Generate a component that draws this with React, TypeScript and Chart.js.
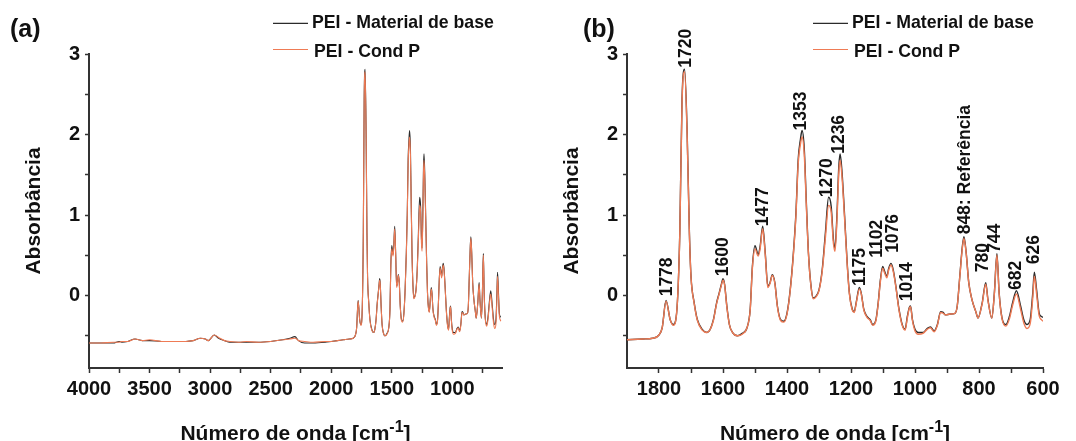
import React, { useEffect, useRef } from 'react';
import { Chart, registerables } from 'chart.js';

Chart.register(...registerables);

const FONT = '"Liberation Sans", Arial, sans-serif';

const WAVENUMBER = [
  4000, 3900, 3800, 3750, 3730, 3680, 3620, 3560, 3500, 3400, 3300, 3200, 3140, 3080, 3040, 3016, 2966, 2930,
  2880, 2837, 2750, 2700, 2600, 2500, 2400, 2340, 2300, 2270, 2220, 2150, 2050, 2000, 1950, 1900, 1850, 1820,
  1800, 1790, 1778, 1765, 1755, 1745, 1735, 1728, 1720, 1712, 1705, 1700, 1690, 1680, 1665, 1650, 1640, 1630,
  1620, 1612, 1605, 1600, 1595, 1588, 1580, 1570, 1555, 1540, 1525, 1515, 1508, 1500, 1490, 1484, 1476, 1468,
  1460, 1453, 1446, 1438, 1430, 1420, 1410, 1400, 1390, 1380, 1372, 1365, 1358, 1353, 1346, 1340, 1333, 1325,
  1318, 1310, 1300, 1290, 1280, 1270, 1262, 1255, 1250, 1244, 1238, 1234, 1228, 1220, 1212, 1205, 1196, 1190,
  1183, 1174, 1168, 1160, 1150, 1140, 1132, 1122, 1115, 1108, 1101, 1095, 1088, 1082, 1075, 1068, 1060, 1050,
  1040, 1031, 1024, 1018, 1014, 1008, 1000, 990, 975, 962, 952, 940, 930, 920, 912, 905, 890, 875,
  868, 860, 852, 847, 840, 832, 822, 810, 803, 790, 779, 772, 760, 752, 744, 737, 728, 716,
  705, 695, 683, 670, 660, 650, 640, 632, 627, 620, 612, 605, 600,
];

const BASE = [
  -0.59, -0.59, -0.59, -0.57, -0.58, -0.57, -0.54, -0.56, -0.56, -0.57, -0.57, -0.57, -0.56, -0.53, -0.54, -0.56, -0.49, -0.53,
  -0.56, -0.58, -0.58, -0.58, -0.58, -0.57, -0.55, -0.53, -0.51, -0.56, -0.59, -0.59, -0.58, -0.57, -0.56, -0.55, -0.54, -0.53,
  -0.49, -0.4, -0.06, -0.3, -0.36, -0.22, 0.78, 2.44, 2.81, 2.02, 0.78, 0.24, -0.09, -0.3, -0.42, -0.46, -0.42, -0.3,
  -0.09, 0.03, 0.14, 0.21, 0.14, -0.13, -0.36, -0.46, -0.5, -0.47, -0.4, -0.17, 0.37, 0.62, 0.51, 0.61, 0.86, 0.53,
  0.12, 0.16, 0.26, 0.16, -0.13, -0.3, -0.32, -0.22, 0.07, 0.53, 1.03, 1.69, 1.94, 2.05, 1.82, 1.2, 0.53, 0.12,
  -0.03, -0.01, 0.07, 0.32, 0.78, 1.22, 1.11, 0.7, 0.59, 0.99, 1.61, 1.76, 1.53, 0.99, 0.41, 0.03, -0.17, -0.2,
  -0.07, 0.1, 0.03, -0.17, -0.26, -0.3, -0.36, -0.3, -0.09, 0.2, 0.36, 0.3, 0.24, 0.34, 0.4, 0.32, 0.12, -0.17,
  -0.36, -0.42, -0.26, -0.15, -0.13, -0.3, -0.42, -0.46, -0.46, -0.41, -0.39, -0.44, -0.36, -0.2, -0.21, -0.24, -0.23, -0.22,
  -0.13, 0.24, 0.61, 0.73, 0.53, 0.16, -0.05, -0.2, -0.28, -0.09, 0.16, -0.05, -0.28, 0.03, 0.52, 0.03, -0.28, -0.36,
  -0.26, -0.09, 0.06, -0.13, -0.3, -0.36, -0.3, 0.03, 0.29, 0.07, -0.22, -0.26, -0.27,
];

const COND = [
  -0.59, -0.59, -0.58, -0.58, -0.57, -0.57, -0.54, -0.56, -0.55, -0.57, -0.57, -0.57, -0.56, -0.53, -0.54, -0.56, -0.49, -0.52,
  -0.56, -0.57, -0.58, -0.57, -0.58, -0.57, -0.55, -0.54, -0.53, -0.56, -0.57, -0.58, -0.57, -0.57, -0.56, -0.55, -0.54, -0.53,
  -0.49, -0.4, -0.07, -0.3, -0.37, -0.22, 0.76, 2.4, 2.78, 1.98, 0.76, 0.23, -0.1, -0.31, -0.43, -0.46, -0.42, -0.31,
  -0.1, 0.02, 0.13, 0.19, 0.13, -0.14, -0.36, -0.46, -0.5, -0.48, -0.4, -0.18, 0.35, 0.58, 0.49, 0.58, 0.83, 0.51,
  0.1, 0.15, 0.25, 0.15, -0.14, -0.31, -0.33, -0.23, 0.06, 0.51, 1.0, 1.64, 1.88, 1.97, 1.75, 1.16, 0.52, 0.11,
  -0.04, -0.02, 0.06, 0.3, 0.72, 1.12, 1.04, 0.65, 0.55, 0.93, 1.53, 1.68, 1.47, 0.95, 0.39, 0.02, -0.18, -0.21,
  -0.08, 0.08, 0.02, -0.18, -0.27, -0.31, -0.37, -0.31, -0.1, 0.18, 0.34, 0.28, 0.22, 0.32, 0.38, 0.3, 0.11, -0.18,
  -0.37, -0.43, -0.28, -0.16, -0.14, -0.31, -0.44, -0.48, -0.47, -0.42, -0.4, -0.45, -0.37, -0.21, -0.22, -0.24, -0.23, -0.22,
  -0.13, 0.23, 0.59, 0.71, 0.52, 0.16, -0.05, -0.2, -0.28, -0.1, 0.14, -0.06, -0.28, 0.02, 0.5, 0.02, -0.29, -0.38,
  -0.29, -0.12, 0.02, -0.17, -0.34, -0.41, -0.35, -0.03, 0.24, 0.02, -0.25, -0.3, -0.32,
];

const SERIES_NAMES = ['PEI - Material de base', 'PEI - Cond P'];
const SERIES_COLORS = ['#2b2b2b', '#ef7b55'];

const Y_TICKS = [-0.5, 0, 0.5, 1, 1.5, 2, 2.5, 3];
const X_TICKS_A = [4000, 3750, 3500, 3250, 3000, 2750, 2500, 2250, 2000, 1750, 1500, 1250, 1000, 750];
const X_TICKS_B = [1800, 1700, 1600, 1500, 1400, 1300, 1200, 1100, 1000, 900, 800, 700, 600];

const PEAK_LABELS = ['1778', '1720', '1600', '1477', '1353', '1270', '1236', '1175', '1102', '1076', '1014', '848: Referência', '780', '744', '682', '626'];
const PEAK_X = [1774, 1715, 1598, 1476, 1357, 1276, 1238, 1172, 1118, 1069, 1025, 844, 787, 750, 685, 629];
const PEAK_Y = [-0.01, 2.83, 0.24, 0.86, 2.05, 1.22, 1.76, 0.12, 0.47, 0.53, -0.07, 0.76, 0.29, 0.53, 0.07, 0.39];

type PanelProps = {
  tag: string;
  tagX: number;
  xMin: number;
  xMax: number;
  xTicks: number[];
  labelEvery: number;
  rightPad: number;
  lineWidth: number;
  showPeaks: boolean;
  legendX: number;
};

function Panel(props: PanelProps) {
  const ref = useRef<HTMLCanvasElement | null>(null);
  useEffect(() => {
    const canvas = ref.current;
    if (!canvas) return;
    const mk = (vals: number[]) => WAVENUMBER.map((w, i) => ({ x: w, y: vals[i] }));

    const overlay = {
      id: 'overlay',
      afterDraw(chart: any) {
        const ctx = chart.ctx as CanvasRenderingContext2D;
        const xs = chart.scales.x;
        const ys = chart.scales.y;
        const area = chart.chartArea;
        ctx.save();
        // panel tag
        ctx.fillStyle = '#111';
        ctx.font = `bold 25px ${FONT}`;
        ctx.textAlign = 'left';
        ctx.textBaseline = 'alphabetic';
        ctx.fillText(props.tag, props.tagX, 37);
        // legend
        const lx = props.legendX;
        const rows = [23.3, 49.5];
        const textY = [23.5, 52];
        SERIES_NAMES.forEach((name, i) => {
          ctx.strokeStyle = SERIES_COLORS[i];
          ctx.lineWidth = 1.2;
          ctx.beginPath();
          ctx.moveTo(lx, rows[i]);
          ctx.lineTo(lx + 35, rows[i]);
          ctx.stroke();
          ctx.fillStyle = '#111';
          ctx.font = `bold 17.7px ${FONT}`;
          ctx.textBaseline = 'middle';
          ctx.fillText(name, lx + 39 + i * 2, textY[i]);
        });
        // x-axis title with superscript
        const main = 'Número de onda [cm';
        const sup = '-1';
        const end = ']';
        ctx.textBaseline = 'alphabetic';
        ctx.font = `bold 21px ${FONT}`;
        const w1 = ctx.measureText(main).width;
        const w3 = ctx.measureText(end).width;
        ctx.font = `bold 16px ${FONT}`;
        const w2 = ctx.measureText(sup).width;
        const cx = (area.left + area.right) / 2;
        let x0 = cx - (w1 + w2 + w3) / 2;
        const base = 440;
        ctx.font = `bold 21px ${FONT}`;
        ctx.fillText(main, x0, base);
        x0 += w1;
        ctx.font = `bold 16px ${FONT}`;
        ctx.fillText(sup, x0, base - 8);
        x0 += w2;
        ctx.font = `bold 21px ${FONT}`;
        ctx.fillText(end, x0, base);
        // peak annotations
        if (props.showPeaks) {
          ctx.font = `bold 17.5px ${FONT}`;
          ctx.textAlign = 'left';
          ctx.textBaseline = 'middle';
          PEAK_LABELS.forEach((lab, i) => {
            const px = xs.getPixelForValue(PEAK_X[i]);
            const py = ys.getPixelForValue(PEAK_Y[i]);
            ctx.save();
            ctx.translate(px, py);
            ctx.rotate(-Math.PI / 2);
            ctx.fillText(lab, 0, 0);
            ctx.restore();
          });
        }
        ctx.restore();
      },
    };

    const chart = new Chart(canvas, {
      type: 'line',
      data: {
        datasets: [
          {
            label: SERIES_NAMES[0],
            data: mk(BASE),
            borderColor: SERIES_COLORS[0],
            borderWidth: props.lineWidth,
            pointRadius: 0,
            cubicInterpolationMode: 'monotone',
            order: 1,
          },
          {
            label: SERIES_NAMES[1],
            data: mk(COND),
            borderColor: SERIES_COLORS[1],
            borderWidth: props.lineWidth,
            pointRadius: 0,
            cubicInterpolationMode: 'monotone',
            order: 0,
          },
        ],
      },
      options: {
        animation: false,
        responsive: false,
        maintainAspectRatio: false,
        layout: { padding: { top: 54, right: props.rightPad, left: 0, bottom: 0 } },
        plugins: { legend: { display: false }, tooltip: { enabled: false } },
        scales: {
          x: {
            type: 'linear',
            reverse: true,
            min: props.xMin,
            max: props.xMax,
            afterBuildTicks: (s: any) => {
              s.ticks = props.xTicks.map((v) => ({ value: v }));
            },
            afterFit: (s: any) => {
              s.height = 73;
            },
            grid: { drawOnChartArea: false, drawTicks: true, tickLength: 5, tickColor: '#333', tickWidth: 1.5 },
            border: { display: true, color: '#333', width: 2 },
            ticks: {
              autoSkip: false,
              maxRotation: 0,
              minRotation: 0,
              padding: 4,
              color: '#111',
              font: { size: 20, weight: 'bold', family: FONT },
              callback: (v: any) => (Number(v) % props.labelEvery === 0 ? String(v) : ''),
            },
          },
          y: {
            type: 'linear',
            min: -0.9,
            max: 3,
            afterBuildTicks: (s: any) => {
              s.ticks = Y_TICKS.map((v) => ({ value: v }));
            },
            afterFit: (s: any) => {
              s.width = 89;
            },
            grid: { drawOnChartArea: false, drawTicks: true, tickLength: 4, tickColor: '#333', tickWidth: 1.5 },
            border: { display: true, color: '#333', width: 2 },
            ticks: {
              padding: 5,
              color: '#111',
              font: { size: 20, weight: 'bold', family: FONT },
              callback: (v: any) => (Number.isInteger(Number(v)) ? String(v) : ''),
            },
            title: {
              display: true,
              text: 'Absorbância',
              color: '#111',
              font: { size: 21, weight: 'bold', family: FONT },
              padding: { top: 22, bottom: 0 },
            },
          },
        },
      },
      plugins: [overlay],
    } as any);
    return () => chart.destroy();
  }, []);
  return <canvas ref={ref} width={538} height={441} style={{ display: 'block' }} />;
}

export default function App() {
  return (
    <div style={{ position: 'absolute', left: 0, top: 0, width: 1076, height: 441, background: '#fff', display: 'flex' }}>
      <Panel tag="(a)" tagX={10} xMin={590} xMax={4000} xTicks={X_TICKS_A} labelEvery={500} rightPad={36} lineWidth={1.1} showPeaks={false} legendX={273} />
      <Panel tag="(b)" tagX={45} xMin={600} xMax={1900} xTicks={X_TICKS_B} labelEvery={200} rightPad={33} lineWidth={1.4} showPeaks={true} legendX={275} />
    </div>
  );
}
